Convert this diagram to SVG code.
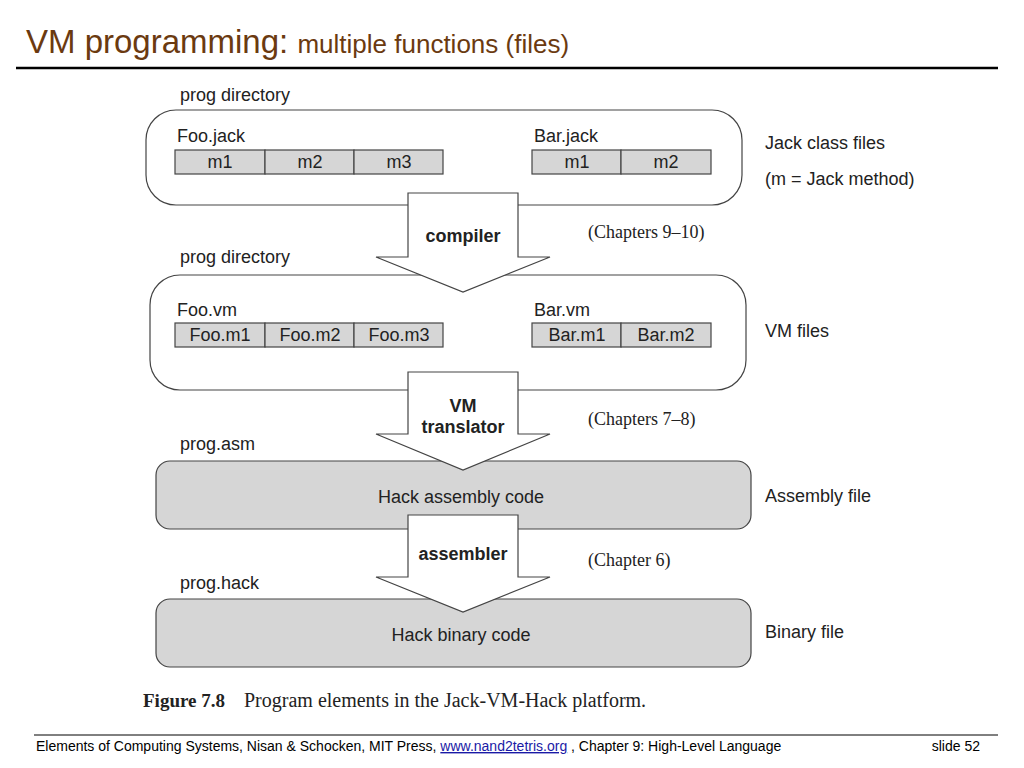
<svg xmlns="http://www.w3.org/2000/svg" width="1024" height="768" viewBox="0 0 1024 768">
<style>
text{font-family:"Liberation Sans",Arial,sans-serif;fill:#222}
.l{font-size:18px}
.c{font-size:18px;text-anchor:middle}
.b{font-size:18px;font-weight:bold;text-anchor:middle}
.s{font-family:"Liberation Serif",serif;font-size:18px}
.box{fill:#fff;stroke:#444;stroke-width:1.2}
.gbox{fill:#d6d6d6;stroke:#444;stroke-width:1.2}
.cell{fill:#d6d6d6;stroke:#444;stroke-width:1.2}
.arr{fill:#fff;stroke:#444;stroke-width:1.2}
</style>
<rect width="1024" height="768" fill="#fff"/>
<text x="26" y="53" style="font-size:33px;fill:#6b3a10">VM programming: <tspan style="font-size:26px">multiple functions (files)</tspan></text>
<line x1="16" y1="68" x2="998" y2="68" stroke="#000" stroke-width="2.5"/>

<g id="n1">
<text class="l" x="180" y="101">prog directory</text>
<rect class="box" x="146" y="110" width="596" height="95" rx="30"/>
<text class="l" x="177" y="142">Foo.jack</text>
<rect class="cell" x="175" y="150" width="90" height="24"/><rect class="cell" x="265" y="150" width="89" height="24"/><rect class="cell" x="354" y="150" width="89" height="24"/>
<text class="c" x="220" y="168">m1</text><text class="c" x="310" y="168">m2</text><text class="c" x="399" y="168">m3</text>
<text class="l" x="534" y="142">Bar.jack</text>
<rect class="cell" x="532" y="150" width="89" height="24"/><rect class="cell" x="621" y="150" width="90" height="24"/>
<text class="c" x="577" y="168">m1</text><text class="c" x="666" y="168">m2</text>
</g>
<g id="n2">
<text class="l" x="180" y="263">prog directory</text>
<rect class="box" x="150" y="275" width="596" height="115" rx="30"/>
<text class="l" x="177" y="316">Foo.vm</text>
<rect class="cell" x="175" y="323" width="90" height="24"/><rect class="cell" x="265" y="323" width="89" height="24"/><rect class="cell" x="354" y="323" width="89" height="24"/>
<text class="c" x="220" y="341">Foo.m1</text><text class="c" x="310" y="341">Foo.m2</text><text class="c" x="399" y="341">Foo.m3</text>
<text class="l" x="534" y="316">Bar.vm</text>
<rect class="cell" x="532" y="323" width="89" height="24"/><rect class="cell" x="621" y="323" width="90" height="24"/>
<text class="c" x="577" y="341">Bar.m1</text><text class="c" x="666" y="341">Bar.m2</text>
</g>
<g id="n3">
<text class="l" x="180" y="450">prog.asm</text>
<rect class="gbox" x="156" y="461" width="595" height="68" rx="14"/>
<text class="c" x="461" y="503">Hack assembly code</text>
</g>
<g id="n4">
<text class="l" x="180" y="589">prog.hack</text>
<rect class="gbox" x="156" y="599" width="595" height="68" rx="14"/>
<text class="c" x="461" y="641">Hack binary code</text>
</g>
<g id="connectors">
<polygon class="arr" points="408,193 518,193 518,257 550,257 463,292 376,257 408,257"/>
<polygon class="arr" points="408,372 518,372 518,434 550,434 463,470 376,434 408,434"/>
<polygon class="arr" points="408,515 518,515 518,577 550,577 463,612 376,577 408,577"/>
</g>
<text class="b" x="463" y="242">compiler</text>
<text class="b" x="463" y="412">VM</text><text class="b" x="463" y="433">translator</text>
<text class="b" x="463" y="560">assembler</text>
<text class="s" x="588" y="238">(Chapters 9–10)</text>
<text class="s" x="588" y="425">(Chapters 7–8)</text>
<text class="s" x="588" y="566">(Chapter 6)</text>
<text class="l" x="765" y="149">Jack class files</text>
<text class="l" x="765" y="185">(m = Jack method)</text>
<text class="l" x="765" y="337">VM files</text>
<text class="l" x="765" y="502">Assembly file</text>
<text class="l" x="765" y="638">Binary file</text>
<text x="143" y="707" style="font-family:'Liberation Serif',serif;font-size:19px;font-weight:bold">Figure 7.8</text>
<text x="244" y="707" style="font-family:'Liberation Serif',serif;font-size:20px">Program elements in the Jack-VM-Hack platform.</text>
<line x1="34" y1="735" x2="998" y2="735" stroke="#000" stroke-width="1"/>
<text x="36" y="751" style="font-size:14px;fill:#000">Elements of Computing Systems, Nisan &amp; Schocken, MIT Press,  <tspan fill="#1a1aa6" text-decoration="underline">www.nand2tetris.org</tspan> , Chapter 9: High-Level Language</text>
<text x="980" y="751" style="font-size:14px;fill:#000;text-anchor:end">slide 52</text>
</svg>
